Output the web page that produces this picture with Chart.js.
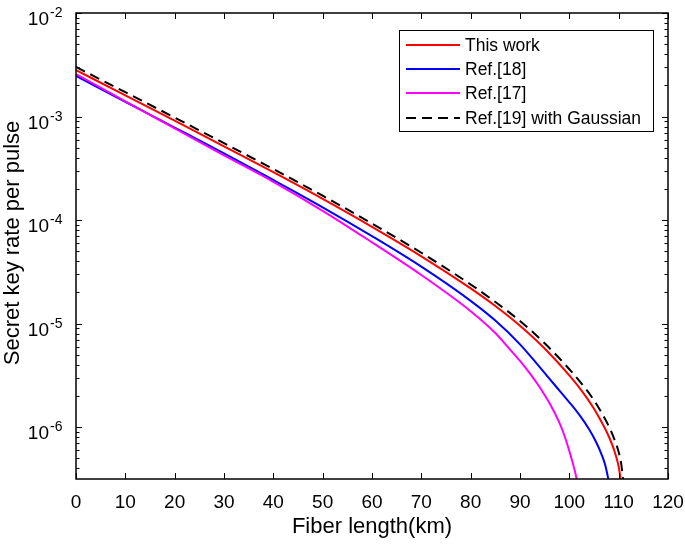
<!DOCTYPE html>
<html>
<head>
<meta charset="utf-8">
<script src="https://cdn.jsdelivr.net/npm/chart.js@4.4.1/dist/chart.umd.min.js"></script>
<style>
html,body{margin:0;padding:0;background:#fff;}
#wrap{width:685px;height:546px;position:relative;}
</style>
</head>
<body>
<div id="wrap"><canvas id="c" width="685" height="546"></canvas></div>
<script>
// ---- data ----
const seriesNames = ['This work', 'Ref.[18]', 'Ref.[17]', 'Ref.[19] with Gaussian'];

const kmThisWork = [0,10,20,30,40,50,60,70,80,85,90,95,100,103,105,107,108,109,110,110.4];
const thisWork   = [2.81e-3,1.603e-3,9.12e-4,5.16e-4,2.90e-4,1.603e-4,8.61e-5,4.47e-5,2.19e-5,1.48e-5,9.55e-6,5.75e-6,3.16e-6,2.09e-6,1.51e-6,1.02e-6,8.13e-7,6.17e-7,4.17e-7,3.16e-7];

const kmRef18 = [0,10,20,30,40,50,60,70,80,85,90,94,97,100,102,104,105.5,106.5,107.3,107.9];
const ref18   = [2.47e-3,1.39e-3,7.83e-4,4.40e-4,2.44e-4,1.33e-4,7.0e-5,3.55e-5,1.66e-5,1.07e-5,6.31e-6,3.80e-6,2.57e-6,1.74e-6,1.32e-6,9.55e-7,7.08e-7,5.5e-7,4.27e-7,3.16e-7];

const kmRef17 = [0,10,20,30,40,50,60,70,80,85,88,90,92,94,96,98,99,100,101,101.5];
const ref17   = [2.57e-3,1.40e-3,7.67e-4,4.22e-4,2.34e-4,1.23e-4,6.10e-5,2.95e-5,1.32e-5,8.13e-6,5.62e-6,4.37e-6,3.31e-6,2.43e-6,1.70e-6,1.10e-6,8.32e-7,5.89e-7,3.98e-7,3.16e-7];

const kmRef19 = [0,10,20,30,40,50,60,70,80,85,90,95,100,103,105,107,108,109,110,110.5,110.9];
const ref19   = [3.01e-3,1.72e-3,9.77e-4,5.53e-4,3.11e-4,1.72e-4,9.27e-5,4.84e-5,2.39e-5,1.62e-5,1.06e-5,6.46e-6,3.63e-6,2.45e-6,1.82e-6,1.26e-6,1.02e-6,7.94e-7,5.75e-7,4.47e-7,3.16e-7];

const xTicks = [0,10,20,30,40,50,60,70,80,90,100,110,120];
const yDecades = [1e-2,1e-3,1e-4,1e-5,1e-6];
const xTitle = 'Fiber length(km)';
const yTitle = 'Secret key rate per pulse';

// ---- chart ----
const FONT = "'Liberation Sans', Arial, Helvetica, sans-serif";
const pts = (xs, ys) => xs.map((x, i) => ({x: x, y: ys[i]}));

const styles = [
  {color:'#ff0000', dash:[]},
  {color:'#0000ff', dash:[]},
  {color:'#ff00ff', dash:[]},
  {color:'#000000', dash:[10,6]}
];

const frame = {
  id: 'frame',
  afterDatasetsDraw(chart) {
    const {ctx, chartArea: a, scales: {x, y}} = chart;
    ctx.save();
    ctx.strokeStyle = '#000';
    ctx.fillStyle = '#000';
    ctx.lineWidth = 1.5;
    ctx.strokeRect(a.left, a.top, a.right - a.left, a.bottom - a.top);
    ctx.lineWidth = 1;
    const seg = (x1, y1, x2, y2) => { ctx.beginPath(); ctx.moveTo(x1, y1); ctx.lineTo(x2, y2); ctx.stroke(); };
    xTicks.forEach(v => {
      const px = Math.round(x.getPixelForValue(v)) + 0.5;
      seg(px, a.bottom, px, a.bottom - 6);
      seg(px, a.top, px, a.top + 6);
    });
    for (let e = -7; e <= -2; e++) {
      for (let m = 1; m <= 9; m++) {
        const v = m * Math.pow(10, e);
        if (v < y.min * 0.999 || v > y.max * 1.001) continue;
        const py = Math.round(y.getPixelForValue(v)) + 0.5;
        const len = m === 1 ? 6 : 3.5;
        seg(a.left, py, a.left + len, py);
        seg(a.right, py, a.right - len, py);
      }
    }
    yDecades.forEach(v => {
      const py = y.getPixelForValue(v);
      const ex = String(Math.round(Math.log10(v)));
      ctx.font = '19px ' + FONT;
      ctx.textAlign = 'right';
      ctx.textBaseline = 'alphabetic';
      ctx.fillText('10', a.left - 27, py + 12);
      ctx.font = '14px ' + FONT;
      ctx.textAlign = 'left';
      ctx.fillText(ex, a.left - 26, py + 4);
    });
    ctx.font = '22px ' + FONT;
    ctx.textAlign = 'center';
    ctx.textBaseline = 'middle';
    ctx.fillText(xTitle, (a.left + a.right) / 2, 527);
    ctx.save();
    ctx.translate(13, (a.top + a.bottom) / 2 - 3);
    ctx.rotate(-Math.PI / 2);
    ctx.fillText(yTitle, 0, 0);
    ctx.restore();
    // legend
    const lx = 399, ly = 30, lw = 254, lh = 101;
    ctx.fillStyle = '#fff';
    ctx.fillRect(lx, ly, lw, lh);
    ctx.strokeStyle = '#000';
    ctx.lineWidth = 1;
    ctx.strokeRect(lx + 0.5, ly + 0.5, lw, lh);
    const rows = [45, 69, 93, 118];
    seriesNames.forEach((name, i) => {
      ctx.strokeStyle = styles[i].color;
      ctx.lineWidth = 2;
      ctx.setLineDash(styles[i].dash);
      seg(406, rows[i], 460, rows[i]);
      ctx.setLineDash([]);
      ctx.fillStyle = '#000';
      ctx.font = '17.5px ' + FONT;
      ctx.textAlign = 'left';
      ctx.textBaseline = 'middle';
      ctx.fillText(name, 465, rows[i] + 1);
    });
    ctx.restore();
  }
};

const mk = (i, data, order) => ({
  label: seriesNames[i],
  data: data,
  borderColor: styles[i].color,
  backgroundColor: styles[i].color,
  borderWidth: 2,
  borderDash: styles[i].dash,
  pointRadius: 0,
  fill: false,
  cubicInterpolationMode: 'monotone',
  order: order
});

new Chart(document.getElementById('c'), {
  type: 'line',
  data: {
    datasets: [
      mk(0, pts(kmThisWork, thisWork), 1),
      mk(1, pts(kmRef18, ref18), 3),
      mk(2, pts(kmRef17, ref17), 2),
      mk(3, pts(kmRef19, ref19), 0)
    ]
  },
  options: {
    responsive: false,
    animation: false,
    devicePixelRatio: 1,
    layout: {padding: {left: 0, right: 17, top: 13, bottom: 0}},
    plugins: {legend: {display: false}, tooltip: {enabled: false}},
    scales: {
      x: {
        type: 'linear', min: 0, max: 120,
        grid: {display: false, drawTicks: false},
        border: {display: false},
        ticks: {stepSize: 10, autoSkip: false, maxRotation: 0, color: '#000',
                font: {size: 19, family: FONT}, padding: 12},
        afterFit: s => { s.height = 67; s.paddingLeft = 0; s.paddingRight = 0; }
      },
      y: {
        type: 'logarithmic', min: 3.16e-7, max: 1e-2,
        grid: {display: false, drawTicks: false},
        border: {display: false},
        ticks: {display: false},
        afterFit: s => { s.width = 76; s.paddingTop = 0; s.paddingBottom = 0; }
      }
    }
  },
  plugins: [frame]
});
</script>
</body>
</html>
